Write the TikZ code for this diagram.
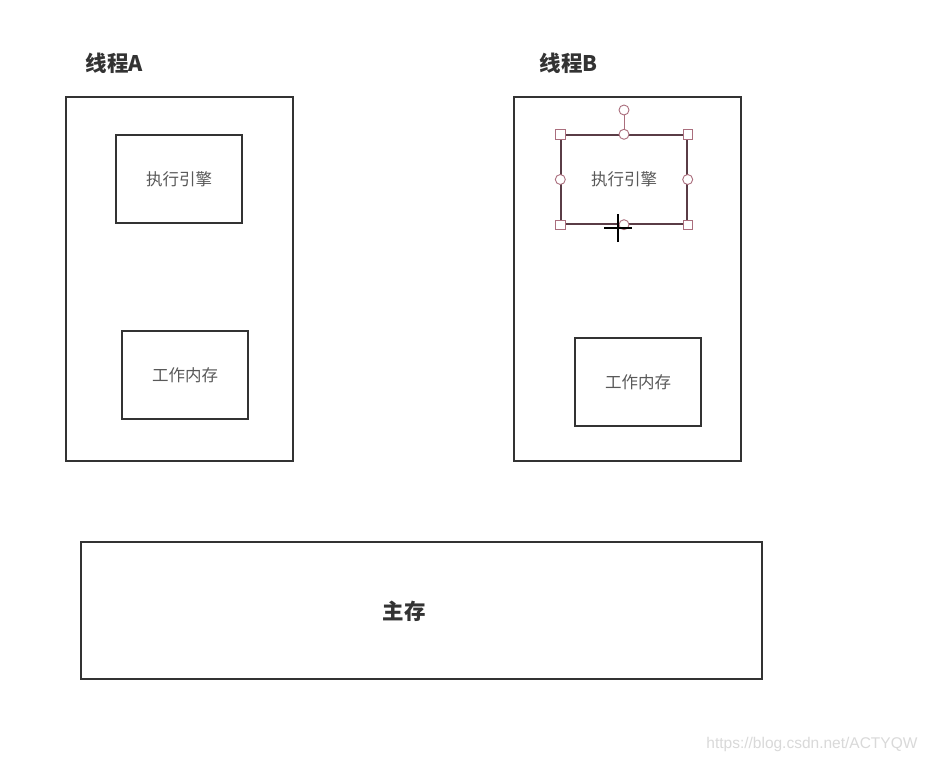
\documentclass[tikz,border=0pt]{standalone}
\usepackage{fontspec}
\newfontfamily\cjk{Noto Sans CJK SC}
\setsansfont{Liberation Sans}
\begin{document}
\begin{tikzpicture}[x=1pt,y=-1pt,
  box/.style={draw=black!80,line width=1.6pt},
  inner/.style={font=\cjk\fontsize{16.5}{16.5}\selectfont,text=black!65},
  title/.style={font=\cjk\bfseries\fontsize{21.5}{21.5}\selectfont,text=black!80},
  sel/.style={draw={rgb,255:red,90;green,60;blue,70},line width=1.4pt},
  hsq/.style={draw={rgb,255:red,170;green,110;blue,125},fill=white,line width=0.9pt,minimum size=9.5pt,inner sep=0pt,rectangle},
  hci/.style={draw={rgb,255:red,170;green,110;blue,125},fill=white,line width=0.9pt,minimum size=10pt,inner sep=0pt,circle}]
\useasboundingbox[fill=white] (0,0) rectangle (928,762);
% thread A
\node[box,minimum width=227pt,minimum height=364pt,inner sep=0pt] (ta) at (179.5,279) {};
\node[title,anchor=west] (la) at (82,63) {线程A};
\node[box,minimum width=126pt,minimum height=88pt,inner sep=0pt] (ea) at (179,179) {};
\node[inner] (eat) at (ea.center) {执行引擎};
\node[box,minimum width=126pt,minimum height=88pt,inner sep=0pt] (wa) at (185,375) {};
\node[inner] (wat) at (wa.center) {工作内存};
% thread B
\node[box,minimum width=227pt,minimum height=364pt,inner sep=0pt] (tb) at (627.5,279) {};
\node[title,anchor=west] (lb) at (536,63) {线程B};
\node[sel,minimum width=126pt,minimum height=89pt,inner sep=0pt] (eb) at (624,179.5) {};
\node[inner] (ebt) at (eb.center) {执行引擎};
\node[box,minimum width=126pt,minimum height=88pt,inner sep=0pt] (wb) at (638,382) {};
\node[inner] (wbt) at (wb.center) {工作内存};
% selection handles
\coordinate (rot) at (624,110);
\draw[draw={rgb,255:red,170;green,110;blue,125},line width=0.9pt] (rot) -- (eb.north);
\node[hci] (h0) at (rot) {};
\node[hsq] (h1) at (eb.north west) {};
\node[hsq] (h2) at (eb.north east) {};
\node[hsq] (h3) at (eb.south west) {};
\node[hsq] (h4) at (eb.south east) {};
\node[hci] (h5) at (eb.north) {};
\node[hci] (h6) at (eb.west) {};
\node[hci] (h7) at (eb.east) {};
\node[hci] (h8) at (eb.south) {};
% cursor
\coordinate (cur) at (618,228);
\draw[line width=2pt,black] ([xshift=-14pt]cur) -- ([xshift=14pt]cur);
\draw[line width=2pt,black] ([yshift=-14pt]cur) -- ([yshift=14pt]cur);
% main memory
\node[box,minimum width=681pt,minimum height=137pt,inner sep=0pt] (mm) at (421.5,610.5) {};
\node[title] (mmt) at (404,611) {主存};
% watermark
\node[font=\sffamily\fontsize{15.5}{15.5}\selectfont,text=black!15,anchor=east] (wm) at (921,744) {https://blog.csdn.net/ACTYQW};
\end{tikzpicture}
\end{document}
